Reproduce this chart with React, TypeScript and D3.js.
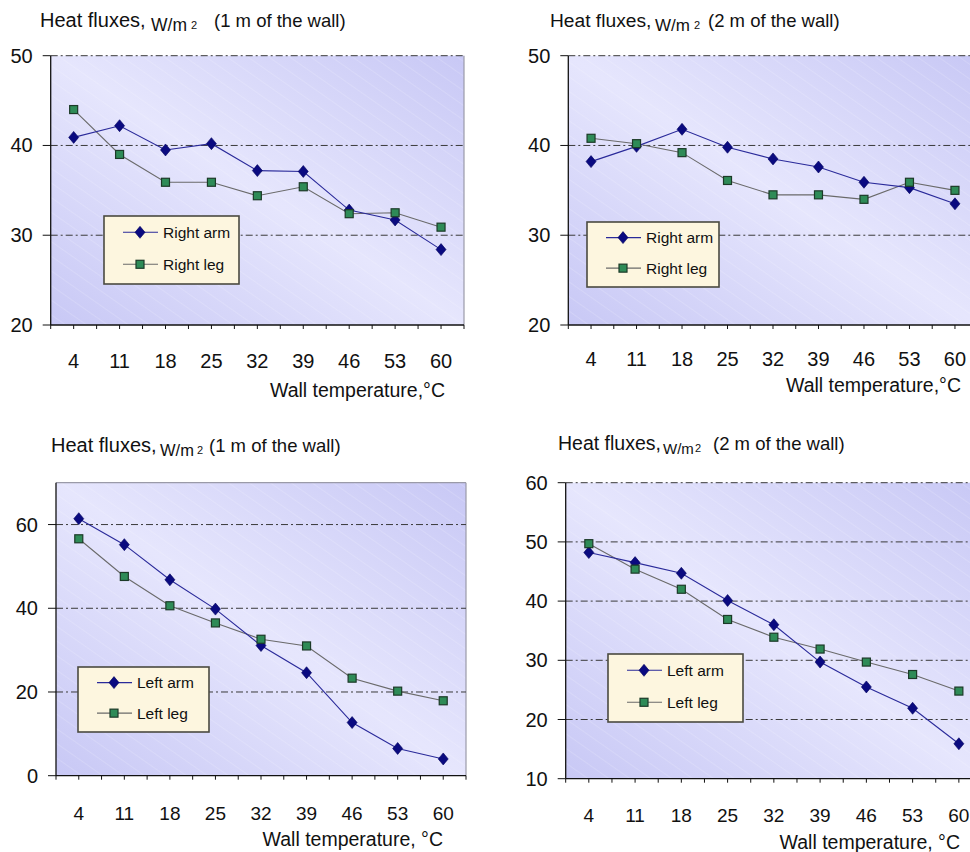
import React from "react";
import * as d3 from "d3";

const temps = [4, 11, 18, 25, 32, 39, 46, 53, 60];

const rightArm1 = [40.9, 42.2, 39.5, 40.2, 37.2, 37.1, 32.8, 31.7, 28.4];
const rightLeg1 = [44.0, 39.0, 35.9, 35.9, 34.4, 35.4, 32.4, 32.5, 30.9];
const rightArm2 = [38.2, 39.9, 41.8, 39.8, 38.5, 37.6, 35.9, 35.3, 33.5];
const rightLeg2 = [40.8, 40.2, 39.2, 36.1, 34.5, 34.5, 34.0, 35.9, 35.0];
const leftArm1 = [61.4, 55.2, 46.8, 39.8, 31.1, 24.6, 12.7, 6.5, 4.0];
const leftLeg1 = [56.6, 47.6, 40.6, 36.5, 32.6, 31.0, 23.3, 20.2, 17.9];
const leftArm2 = [48.2, 46.5, 44.7, 40.1, 36.0, 29.7, 25.5, 21.9, 15.9];
const leftLeg2 = [49.7, 45.4, 42.0, 36.9, 33.9, 31.9, 29.7, 27.6, 24.8];

const yTicks1 = [20, 30, 40, 50];
const yTicks3 = [0, 20, 40, 60];
const yTicks4 = [10, 20, 30, 40, 50, 60];

const FONT = "Liberation Sans, Arial, sans-serif";

type Panel = {
  id: string;
  left: number; right: number; top: number; bottom: number;
  domain: [number, number];
  ticks: number[];
  grid: number[];
  topBorder: boolean;
  arm: number[]; leg: number[];
  armName: string; legName: string;
  title: { x: number; y: number; fs: number; wx: number; wfs: number; sx: number; px: number; loc: string };
  xlab: { x: number; y: number; text: string };
  xTickY: number;
  xTickSize: number;
  legend: { x: number; y: number; w: number; h: number };
};

const panels: Panel[] = [
  {
    id: "p1", left: 50.7, right: 464, top: 55.7, bottom: 325,
    domain: [20, 50], ticks: yTicks1, grid: [30, 40, 50], topBorder: false,
    arm: rightArm1, leg: rightLeg1, armName: "Right arm", legName: "Right leg",
    title: { x: 40, y: 27, fs: 20, wx: 151, wfs: 17.5, sx: 191, px: 214, loc: "(1 m of the wall)" },
    xlab: { x: 445, y: 397, text: "Wall temperature,°C" },
    xTickY: 368, xTickSize: 20,
    legend: { x: 104, y: 216, w: 135, h: 68 },
  },
  {
    id: "p2", left: 568.3, right: 977.7, top: 55.7, bottom: 325,
    domain: [20, 50], ticks: yTicks1, grid: [30, 40, 50], topBorder: false,
    arm: rightArm2, leg: rightLeg2, armName: "Right arm", legName: "Right leg",
    title: { x: 550, y: 27, fs: 19.2, wx: 655, wfs: 17, sx: 694, px: 708, loc: "(2 m of the wall)" },
    xlab: { x: 961, y: 392, text: "Wall temperature,°C" },
    xTickY: 366, xTickSize: 20,
    legend: { x: 587, y: 222, w: 132, h: 65 },
  },
  {
    id: "p3", left: 56, right: 466, top: 482.7, bottom: 775.7,
    domain: [0, 70], ticks: yTicks3, grid: [20, 40, 60], topBorder: true,
    arm: leftArm1, leg: leftLeg1, armName: "Left arm", legName: "Left leg",
    title: { x: 51, y: 452, fs: 20, wx: 160, wfs: 16.5, sx: 197, px: 209, loc: "(1 m of the wall)" },
    xlab: { x: 443, y: 846, text: "Wall temperature, °C" },
    xTickY: 820, xTickSize: 19,
    legend: { x: 78, y: 667, w: 131, h: 65 },
  },
  {
    id: "p4", left: 565.7, right: 982, top: 482.7, bottom: 778.7,
    domain: [10, 60], ticks: yTicks4, grid: [20, 30, 40, 50, 60], topBorder: false,
    arm: leftArm2, leg: leftLeg2, armName: "Left arm", legName: "Left leg",
    title: { x: 558, y: 450, fs: 19.5, wx: 663, wfs: 15, sx: 695, px: 713, loc: "(2 m of the wall)" },
    xlab: { x: 960, y: 849, text: "Wall temperature, °C" },
    xTickY: 822, xTickSize: 19,
    legend: { x: 608, y: 654, w: 135, h: 68 },
  },
];

const ARM_LINE = "#2a2a9a";
const LEG_LINE = "#6a6a6a";
const ARM_FILL = "#0a0a80";
const LEG_FILL = "#2e8b57";

function Diamond({ x, y }: { x: number; y: number }) {
  const w = 5, h = 6;
  return <path d={`M${x},${y - h}L${x + w},${y}L${x},${y + h}L${x - w},${y}Z`} fill={ARM_FILL} stroke="#00005a" strokeWidth={0.6} />;
}
function Square({ x, y }: { x: number; y: number }) {
  const s = 4;
  return <rect x={x - s} y={y - s} width={2 * s} height={2 * s} fill={LEG_FILL} stroke="#1c3a28" strokeWidth={1.2} />;
}

function ChartPanel({ p }: { p: Panel }) {
  const x = d3.scaleBand<number>().domain(temps).range([p.left, p.right]).padding(0);
  const y = d3.scaleLinear().domain(p.domain).range([p.bottom, p.top]);
  const cx = (t: number) => (x(t) as number) + x.bandwidth() / 2;
  const line = d3.line<number>().x((_, i) => cx(temps[i])).y((v) => y(v));
  const boundaries = temps.map((t) => x(t) as number).concat([p.right]);
  const w = p.right - p.left, h = p.bottom - p.top;
  const lg = p.legend;
  return (
    <g>
      <rect x={p.left} y={p.top} width={w} height={h} fill={`url(#grad-${p.id})`} />
      <rect x={p.left} y={p.top} width={w} height={h} fill="url(#stripes)" />
      <line x1={p.right} x2={p.right} y1={p.top} y2={p.bottom} stroke="#9a9aa8" strokeWidth={1.2} />
      {p.topBorder && <line x1={p.left} x2={p.right} y1={p.top} y2={p.top} stroke="#9a9aa8" strokeWidth={1.2} />}
      {p.grid.map((g) => (
        <line key={g} x1={p.left} x2={p.right} y1={y(g)} y2={y(g)} stroke="#3a3a3a" strokeWidth={1} strokeDasharray="7,3,2,3" />
      ))}
      <line x1={p.left} x2={p.left} y1={p.top} y2={p.bottom} stroke="#111" strokeWidth={1.3} />
      <line x1={p.left} x2={p.right} y1={p.bottom} y2={p.bottom} stroke="#111" strokeWidth={1.3} />
      {p.ticks.map((t) => (
        <g key={t}>
          <line x1={p.left - 8} x2={p.left} y1={y(t)} y2={y(t)} stroke="#111" strokeWidth={1} />
          <text x={p.left - 18} y={y(t) + 7} textAnchor="end" fontSize={20} fontFamily={FONT} fill="#111">{t}</text>
        </g>
      ))}
      {boundaries.map((b, i) => (
        <line key={"b" + i} x1={b} x2={b} y1={p.bottom} y2={p.bottom + 4} stroke="#111" strokeWidth={1} />
      ))}
      {temps.map((t) => (
        <g key={"c" + t}>
          <line x1={cx(t)} x2={cx(t)} y1={p.bottom} y2={p.bottom + 4} stroke="#111" strokeWidth={1} />
          <text x={cx(t)} y={p.xTickY} textAnchor="middle" fontSize={p.xTickSize} fontFamily={FONT} fill="#111">{t}</text>
        </g>
      ))}
      <path d={line(p.leg) || ""} fill="none" stroke={LEG_LINE} strokeWidth={1.1} />
      <path d={line(p.arm) || ""} fill="none" stroke={ARM_LINE} strokeWidth={1.1} />
      {p.arm.map((v, i) => <Diamond key={"a" + i} x={cx(temps[i])} y={y(v)} />)}
      {p.leg.map((v, i) => <Square key={"l" + i} x={cx(temps[i])} y={y(v)} />)}
      <rect x={lg.x} y={lg.y} width={lg.w} height={lg.h} fill="#fdf6df" stroke="#4a4a40" strokeWidth={1.6} />
      <line x1={lg.x + 19} x2={lg.x + 54} y1={lg.y + lg.h * 0.24} y2={lg.y + lg.h * 0.24} stroke={ARM_LINE} strokeWidth={1.1} />
      <Diamond x={lg.x + 36} y={lg.y + lg.h * 0.24} />
      <text x={lg.x + 59} y={lg.y + lg.h * 0.24 + 5.5} fontSize={15.5} fontFamily={FONT} fill="#111">{p.armName}</text>
      <line x1={lg.x + 19} x2={lg.x + 54} y1={lg.y + lg.h * 0.71} y2={lg.y + lg.h * 0.71} stroke={LEG_LINE} strokeWidth={1.1} />
      <Square x={lg.x + 36} y={lg.y + lg.h * 0.71} />
      <text x={lg.x + 59} y={lg.y + lg.h * 0.71 + 5.5} fontSize={15.5} fontFamily={FONT} fill="#111">{p.legName}</text>
      <text x={p.title.x} y={p.title.y} fontSize={p.title.fs} fontFamily={FONT} fill="#111">Heat fluxes,</text>
      <text x={p.title.wx} y={p.title.y + 4} fontSize={p.title.wfs} fontFamily={FONT} fill="#111">W/m</text>
      <text x={p.title.sx} y={p.title.y + 2} fontSize={11} fontFamily={FONT} fill="#111">2</text>
      <text x={p.title.px} y={p.title.y} fontSize={18.5} fontFamily={FONT} fill="#111">{p.title.loc}</text>
      <text x={p.xlab.x} y={p.xlab.y} textAnchor="end" fontSize={19.5} fontFamily={FONT} fill="#111">{p.xlab.text}</text>
    </g>
  );
}

export default function App() {
  return (
    <svg width={970} height={852} style={{ position: "absolute", left: 0, top: 0, background: "#fff" }}>
      <defs>
        {panels.map((p) => (
          <linearGradient key={p.id} id={`grad-${p.id}`} x1="0" y1="1" x2="1" y2="0">
            <stop offset="0" stopColor="#c8c8f5" />
            <stop offset="0.5" stopColor="#e6e6fd" />
            <stop offset="1" stopColor="#c8c8f5" />
          </linearGradient>
        ))}
        <pattern id="stripes" width="12" height="12" patternUnits="userSpaceOnUse" patternTransform="rotate(35)">
          <line x1="0" y1="0" x2="12" y2="0" stroke="#ffffff" strokeWidth="1" strokeOpacity="0.3" />
        </pattern>
      </defs>
      <rect width={970} height={852} fill="#fff" />
      {panels.map((p) => <ChartPanel key={p.id} p={p} />)}
    </svg>
  );
}
